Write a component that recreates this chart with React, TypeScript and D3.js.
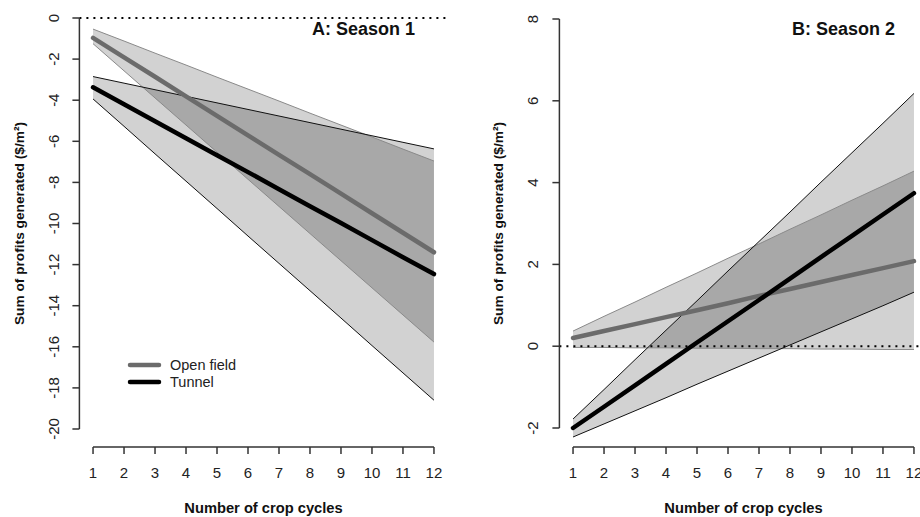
import React from "react";
import * as d3 from "d3";

const cycles = [1, 2, 3, 4, 5, 6, 7, 8, 9, 10, 11, 12];
const xTicks = [1, 2, 3, 4, 5, 6, 7, 8, 9, 10, 11, 12];

// Panel A: Season 1
const aTicksY = [0, -2, -4, -6, -8, -10, -12, -14, -16, -18, -20];
const aOpenMean = [-0.97, -1.92, -2.86, -3.81, -4.76, -5.71, -6.66, -7.6, -8.55, -9.5, -10.45, -11.4];
const aOpenUpper = [-0.54, -1.12, -1.71, -2.29, -2.88, -3.46, -4.04, -4.63, -5.21, -5.79, -6.38, -6.96];
const aOpenLower = [-1.25, -2.57, -3.89, -5.21, -6.53, -7.85, -9.17, -10.49, -11.81, -13.13, -14.45, -15.77];
const aTunMean = [-3.37, -4.2, -5.02, -5.85, -6.68, -7.5, -8.33, -9.16, -9.98, -10.81, -11.64, -12.46];
const aTunUpper = [-2.85, -3.17, -3.49, -3.81, -4.13, -4.45, -4.77, -5.09, -5.41, -5.73, -6.05, -6.37];
const aTunLower = [-3.94, -5.27, -6.61, -7.94, -9.27, -10.61, -11.94, -13.27, -14.6, -15.94, -17.27, -18.6];

// Panel B: Season 2
const bTicksY = [-2, 0, 2, 4, 6, 8];
const bOpenMean = [0.2, 0.37, 0.54, 0.71, 0.88, 1.05, 1.23, 1.4, 1.57, 1.74, 1.91, 2.08];
const bOpenUpper = [0.37, 0.73, 1.08, 1.44, 1.79, 2.15, 2.5, 2.86, 3.21, 3.57, 3.92, 4.28];
const bOpenLower = [-0.03, -0.03, -0.04, -0.04, -0.05, -0.05, -0.06, -0.06, -0.07, -0.07, -0.08, -0.08];
const bTunMean = [-2.0, -1.48, -0.96, -0.43, 0.09, 0.61, 1.13, 1.65, 2.18, 2.7, 3.22, 3.74];
const bTunUpper = [-1.78, -1.06, -0.33, 0.39, 1.11, 1.84, 2.56, 3.28, 4.01, 4.73, 5.45, 6.18];
const bTunLower = [-2.22, -1.9, -1.58, -1.26, -0.93, -0.61, -0.29, 0.03, 0.35, 0.67, 0.99, 1.32];

const seriesNames = ["Open field", "Tunnel"];

const FONT = "Liberation Sans, Arial, Helvetica, sans-serif";
const LIGHT = "#d2d2d2";
const DARK = "#a8a8a8";
const OPEN_COL = "#6b6b6b";
const AXIS_COL = "#333";

type PanelProps = {
  id: string;
  title: string;
  xRange: [number, number];
  yDomain: [number, number];
  yRange: [number, number];
  yTicks: number[];
  openMean: number[];
  openUpper: number[];
  openLower: number[];
  tunMean: number[];
  tunUpper: number[];
  tunLower: number[];
  yLabelX: number;
  yTitleX: number;
  titleX: number;
  legend?: boolean;
};

function Panel(p: PanelProps) {
  const x = d3.scaleLinear().domain([0.56, 12.44]).range(p.xRange);
  const y = d3.scaleLinear().domain(p.yDomain).range(p.yRange);
  const mkBand = (up: number[], lo: number[]) =>
    d3
      .area<number>()
      .x((_, i) => x(cycles[i]))
      .y0((_, i) => y(lo[i]))
      .y1((_, i) => y(up[i]))(cycles) as string;
  const mkLine = (vals: number[]) =>
    d3
      .line<number>()
      .x((_, i) => x(cycles[i]))
      .y((_, i) => y(vals[i]))(cycles) as string;
  const openBand = mkBand(p.openUpper, p.openLower);
  const tunBand = mkBand(p.tunUpper, p.tunLower);
  const xAxisY = 447;
  const yAxisX = x(0.56);
  const x1 = x(1);
  const x12 = x(12);
  const yMid = (p.yRange[0] + p.yRange[1]) / 2;
  const clipId = `clip-${p.id}`;
  return (
    <g>
      <defs>
        <clipPath id={clipId}>
          <path d={tunBand} />
        </clipPath>
      </defs>
      <path d={openBand} fill={LIGHT} />
      <path d={tunBand} fill={LIGHT} />
      <path d={openBand} fill={DARK} clipPath={`url(#${clipId})`} />
      {/* band edges */}
      <path d={mkLine(p.openUpper)} fill="none" stroke="#8a8a8a" strokeWidth={1} />
      <path d={mkLine(p.openLower)} fill="none" stroke="#8a8a8a" strokeWidth={1} />
      <path d={mkLine(p.tunUpper)} fill="none" stroke="#111" strokeWidth={1} />
      <path d={mkLine(p.tunLower)} fill="none" stroke="#111" strokeWidth={1} />
      {/* zero line */}
      <line x1={yAxisX} x2={Math.min(p.xRange[1], 920)} y1={y(0)} y2={y(0)} stroke="#000" strokeWidth={2} strokeDasharray="2,5" />
      {/* means */}
      <path d={mkLine(p.openMean)} fill="none" stroke={OPEN_COL} strokeWidth={4.5} strokeLinecap="round" />
      <path d={mkLine(p.tunMean)} fill="none" stroke="#000" strokeWidth={4.5} strokeLinecap="round" />
      {/* y axis */}
      <line x1={yAxisX} x2={yAxisX} y1={y(p.yTicks[0])} y2={y(p.yTicks[p.yTicks.length - 1])} stroke={AXIS_COL} strokeWidth={1.5} />
      {p.yTicks.map((t) => (
        <g key={t}>
          <line x1={yAxisX - 7} x2={yAxisX} y1={y(t)} y2={y(t)} stroke={AXIS_COL} strokeWidth={1.5} />
          <text
            transform={`translate(${p.yLabelX},${y(t)}) rotate(-90)`}
            textAnchor="middle"
            fontFamily={FONT}
            fontSize={15}
            fill="#222"
          >
            {t}
          </text>
        </g>
      ))}
      {/* x axis */}
      <line x1={x1} x2={x12} y1={xAxisY} y2={xAxisY} stroke={AXIS_COL} strokeWidth={1.5} />
      {xTicks.map((t) => (
        <g key={t}>
          <line x1={x(t)} x2={x(t)} y1={xAxisY} y2={xAxisY + 7} stroke={AXIS_COL} strokeWidth={1.5} />
          <text x={x(t)} y={478} textAnchor="middle" fontFamily={FONT} fontSize={15} fill="#222">
            {t}
          </text>
        </g>
      ))}
      <text x={(x1 + x12) / 2} y={513} textAnchor="middle" fontFamily={FONT} fontSize={14.7} fontWeight="bold" fill="#111">
        Number of crop cycles
      </text>
      <text
        transform={`translate(${p.yTitleX},${yMid}) rotate(-90)`}
        textAnchor="middle"
        fontFamily={FONT}
        fontSize={13.7}
        fontWeight="bold"
        fill="#111"
      >
        Sum of profits generated ($/m²)
      </text>
      <text x={p.titleX} y={35} textAnchor="end" fontFamily={FONT} fontSize={18} fontWeight="bold" fill="#111">
        {p.title}
      </text>
      {p.legend && (
        <g>
          {seriesNames.map((n, i) => (
            <g key={n}>
              <line x1={130} x2={159} y1={365 + i * 17} y2={365 + i * 17} stroke={i === 0 ? OPEN_COL : "#000"} strokeWidth={4.5} strokeLinecap="round" />
              <text x={170} y={370 + i * 17} fontFamily={FONT} fontSize={14.5} fill="#222">
                {n}
              </text>
            </g>
          ))}
        </g>
      )}
    </g>
  );
}

export default function App() {
  return (
    <svg width={920} height={517} style={{ position: "absolute", left: 0, top: 0, background: "#fff" }}>
      <rect width={920} height={517} fill="#fff" />
      <Panel
        id="a"
        title="A: Season 1"
        xRange={[79.4, 447.6]}
        yDomain={[-20, 0]}
        yRange={[429, 18]}
        yTicks={aTicksY}
        openMean={aOpenMean}
        openUpper={aOpenUpper}
        openLower={aOpenLower}
        tunMean={aTunMean}
        tunUpper={aTunUpper}
        tunLower={aTunLower}
        yLabelX={59}
        yTitleX={24}
        titleX={415}
        legend
      />
      <Panel
        id="b"
        title="B: Season 2"
        xRange={[559.4, 927.6]}
        yDomain={[-2, 8]}
        yRange={[428, 19]}
        yTicks={bTicksY}
        openMean={bOpenMean}
        openUpper={bOpenUpper}
        openLower={bOpenLower}
        tunMean={bTunMean}
        tunUpper={bTunUpper}
        tunLower={bTunLower}
        yLabelX={538}
        yTitleX={503}
        titleX={895}
      />
    </svg>
  );
}
